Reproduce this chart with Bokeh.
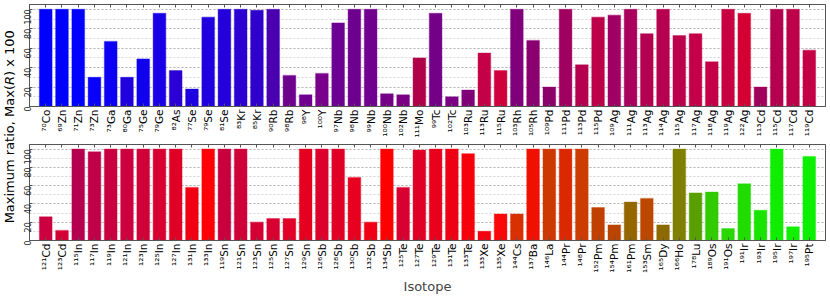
import math
from bokeh.plotting import figure
from bokeh.layouts import row, column
from bokeh.models import (ColumnDataSource, Range1d, FixedTicker, LinearAxis,
                          SingleIntervalTicker, CustomLabelingPolicy)
from bokeh.core.properties import value
from bokeh.embed import file_html
from bokeh.resources import INLINE

# ---------------- data ----------------
top_mass = [70, 69, 71, 73, 73, 80, 75, 79, 82, 77, 79, 81, 83, 85, 90, 98,
            98, 100, 97, 98, 99, 100, 102, 111, 99, 102, 103, 113, 115, 103,
            105, 109, 111, 113, 115, 109, 111, 113, 114, 115, 117, 118, 119,
            122, 113, 115, 117, 119]
top_elem = ["Co", "Zn", "Zn", "Zn", "Ga", "Ga", "Ge", "Ge", "As", "Se", "Se",
            "Se", "Kr", "Kr", "Rb", "Rb", "Y", "Y", "Nb", "Nb", "Nb", "Nb",
            "Nb", "Mo", "Tc", "Tc", "Ru", "Ru", "Ru", "Rh", "Rh", "Pd", "Pd",
            "Pd", "Pd", "Ag", "Ag", "Ag", "Ag", "Ag", "Ag", "Ag", "Ag", "Ag",
            "Cd", "Cd", "Cd", "Cd"]
top_vals = [100, 100, 100, 30, 67, 30, 49, 96, 37, 18, 92, 100, 100, 99, 100,
            32, 12, 34, 86, 100, 100, 13, 12, 50, 96, 10, 17, 55, 37, 100, 68,
            20, 100, 43, 92, 94, 100, 75, 100, 73, 75, 46, 100, 96, 20, 100,
            100, 58]
top_colors = ["#0000ff", "#0000ff", "#0000ff", "#0800f8", "#0c00f2", "#2000dd",
              "#1000ee", "#1a00e6", "#2a00d4", "#1e00e0", "#2000de", "#2400da",
              "#2c00d2", "#3000cc", "#4800b0", "#6e008e", "#700090", "#78008a",
              "#6c0092", "#6e0090", "#700090", "#740088", "#7a0084", "#b00048",
              "#740088", "#7a0084", "#800078", "#c40046", "#d0003c", "#80007c",
              "#8a0070", "#8c006a", "#a00060", "#b4004e", "#bc004a", "#a00064",
              "#a8005c", "#b40050", "#b80050", "#bc004c", "#c40048", "#c40046",
              "#c80042", "#d40034", "#a0005c", "#b4004e", "#bc004a", "#c40044"]

bot_mass = [121, 123, 115, 117, 119, 121, 123, 125, 127, 131, 133, 119, 121,
            123, 125, 127, 129, 126, 128, 130, 132, 134, 125, 127, 129, 131,
            133, 133, 135, 144, 137, 146, 144, 148, 152, 154, 161, 153, 165,
            166, 178, 189, 191, 191, 193, 195, 197, 195]
bot_elem = ["Cd", "Cd", "In", "In", "In", "In", "In", "In", "In", "In", "In",
            "Sn", "Sn", "Sn", "Sn", "Sn", "Sn", "Sb", "Sb", "Sb", "Sb", "Sb",
            "Te", "Te", "Te", "Te", "Te", "Xe", "Xe", "Cs", "Ba", "La", "Pr",
            "Pr", "Pm", "Pm", "Pm", "Sm", "Dy", "Ho", "Lu", "Os", "Os", "Ir",
            "Ir", "Ir", "Ir", "Pt"]
bot_vals = [26, 11, 100, 97, 100, 100, 100, 100, 100, 58, 100, 100, 100, 20,
            24, 24, 100, 100, 100, 69, 20, 100, 58, 99, 100, 100, 95, 10, 29,
            29, 100, 100, 100, 100, 36, 17, 42, 46, 17, 100, 52, 53, 13, 62,
            33, 100, 15, 92]
bot_colors = ["#cc0040", "#d40034", "#b4004e", "#c00048", "#c80040", "#cc003c",
              "#d00038", "#d80030", "#e00026", "#f00012", "#ff0008", "#c8003e",
              "#d00038", "#d40034", "#d80030", "#e00028", "#e4001e", "#dc002c",
              "#e00026", "#e80020", "#f00014", "#ff0000", "#d80030", "#e00026",
              "#e8001c", "#ee0014", "#f6000c", "#f40010", "#fa0808", "#d83000",
              "#f01000", "#cc3800", "#dc2800", "#cc3c00", "#c04000", "#b84400",
              "#946600", "#bc4800", "#8c6a00", "#808000", "#58a000", "#30cc00",
              "#28d800", "#20dc00", "#18e400", "#10ee00", "#10f000", "#0cf000"]

SUP = str.maketrans("0123456789", "⁰¹²³⁴⁵⁶⁷⁸⁹")
FONT = "DejaVu Sans"

LAB_W = 17
MAIN_W = 813
TOP_H = 140
BOT_H = 157


def make_fig(mass, elem, vals, colors, height, border_top, border_bottom,
             xlabel):
    n = len(vals)
    labels = [str(m).translate(SUP) + e for m, e in zip(mass, elem)]
    p = figure(width=MAIN_W, height=height, x_range=Range1d(-1, n),
               y_range=Range1d(0, 105), output_backend="svg",
               toolbar_location=None, min_border_left=0, min_border_right=5,
               min_border_top=border_top, min_border_bottom=border_bottom)
    src = ColumnDataSource(dict(x=list(range(n)), top=vals, color=colors))
    p.vbar(x="x", top="top", width=0.78, bottom=0, source=src,
           fill_color="color", line_color="color", line_alpha=0.35,
           line_width=1.2)

    p.xaxis.ticker = FixedTicker(ticks=list(range(n)), minor_ticks=[])
    p.xaxis.major_label_overrides = {i: lab for i, lab in enumerate(labels)}
    p.xaxis.major_label_orientation = math.pi / 2
    p.xaxis.major_label_text_font = FONT
    p.xaxis.major_label_text_font_size = "10.5px"
    p.xaxis.major_label_text_color = "black"
    p.xaxis.major_label_standoff = 3
    p.xaxis.major_tick_in = 3
    p.xaxis.major_tick_out = 0
    p.xaxis.minor_tick_line_color = None
    p.xaxis.axis_line_color = "#555555"
    p.xaxis.major_tick_line_color = "#555555"
    if xlabel:
        p.xaxis.axis_label = xlabel
        p.xaxis.axis_label_text_font = FONT
        p.xaxis.axis_label_text_font_size = "13px"
        p.xaxis.axis_label_text_font_style = "normal"
        p.xaxis.axis_label_standoff = 3

    p.yaxis.ticker = SingleIntervalTicker(interval=20, num_minor_ticks=2)
    p.yaxis.major_label_orientation = math.pi / 2
    p.yaxis.major_label_text_font = FONT
    p.yaxis.major_label_text_font_size = "8px"
    p.yaxis.major_label_text_color = "#222222"
    p.yaxis.major_label_standoff = 2
    p.yaxis.major_tick_in = 3
    p.yaxis.major_tick_out = 0
    p.yaxis.minor_tick_in = 0
    p.yaxis.minor_tick_out = 0
    p.yaxis.axis_line_color = "#555555"
    p.yaxis.major_tick_line_color = "#555555"

    top_ax = LinearAxis(ticker=FixedTicker(ticks=list(range(n)), minor_ticks=[]),
                        major_label_policy=CustomLabelingPolicy(code="return [];"),
                        major_label_text_font_size="1px",
                        major_label_standoff=0, major_tick_in=3,
                        major_tick_out=0, axis_line_color="#555555",
                        major_tick_line_color="#555555")
    p.add_layout(top_ax, "above")

    p.xgrid.grid_line_color = None
    p.ygrid.grid_line_color = "#b0b0b0"
    p.ygrid.grid_line_dash = "2 2"
    p.ygrid.grid_line_width = 0.8
    p.ygrid.minor_grid_line_color = "#c8c8c8"
    p.ygrid.minor_grid_line_dash = "2 2"
    p.ygrid.minor_grid_line_width = 0.8

    p.outline_line_color = "#555555"
    p.outline_line_width = 1
    return p


top = make_fig(top_mass, top_elem, top_vals, top_colors, TOP_H, 4, 32, None)
bot = make_fig(bot_mass, bot_elem, bot_vals, bot_colors, BOT_H, 3, 50,
               "Isotope")

H = TOP_H + BOT_H
lab = figure(width=LAB_W, height=H, x_range=Range1d(0, LAB_W),
             y_range=Range1d(0, H), output_backend="svg",
             toolbar_location=None, x_axis_type=None, y_axis_type=None,
             min_border=0)
lab.outline_line_color = None
lab.grid.grid_line_color = None

r_center = H - 80
half_r = 4.5
lab.text(x=[9], y=[r_center - half_r], text=["Maximum ratio, Max("],
         angle=math.pi / 2, text_align="right", text_baseline="middle",
         text_font=value(FONT), text_font_size="13px", text_color="black")
lab.text(x=[9], y=[r_center], text=["R"],
         angle=math.pi / 2, text_align="center", text_baseline="middle",
         text_font=value(FONT), text_font_size="13px",
         text_font_style="italic", text_color="black")
lab.text(x=[9], y=[r_center + half_r], text=[") x 100"],
         angle=math.pi / 2, text_align="left", text_baseline="middle",
         text_font=value(FONT), text_font_size="13px", text_color="black")

layout = row(lab, column(top, bot, spacing=0), spacing=0)

open("out.html", "w").write(file_html(layout, INLINE))
